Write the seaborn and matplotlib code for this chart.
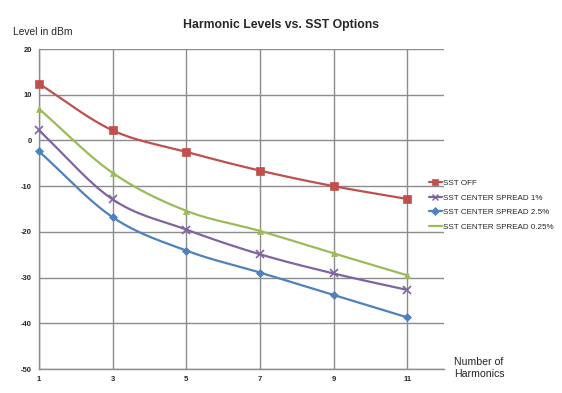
import numpy as np
import pandas as pd
import matplotlib
matplotlib.use("Agg")
import matplotlib.pyplot as plt
import seaborn as sns
from matplotlib.lines import Line2D

harmonics = [1, 3, 5, 7, 9, 11]
sst_off = [12.4, 2.2, -2.5, -6.6, -10.0, -12.8]
spread_1 = [2.2, -12.9, -19.5, -24.9, -29.1, -32.7]
spread_25 = [-2.4, -16.8, -24.1, -28.9, -33.8, -38.7]
spread_025 = [6.9, -7.1, -15.4, -19.8, -24.7, -29.5]

series_names = ["SST OFF", "SST CENTER SPREAD 1%", "SST CENTER SPREAD 2.5%", "SST CENTER SPREAD 0.25%"]
series_vals = [sst_off, spread_1, spread_25, spread_025]
colors = ["#C0504D", "#8064A2", "#4F81BD", "#9BBB59"]
markers = ["s", "x", "D", "^"]
msizes = [6, 6, 4.5, 5]
legend_markers = ["s", "x", "D", "None"]

yticks = [20, 10, 0, -10, -20, -30, -40, -50]

sns.set_style("white")
plt.rcParams["font.family"] = ["Liberation Sans", "DejaVu Sans"]


def smooth(xs, ys, n=30):
    # Catmull-Rom style smoothing of the drawn line (Excel "smoothed line")
    xs = np.asarray(xs, float)
    ys = np.asarray(ys, float)
    px = np.concatenate([[2 * xs[0] - xs[1]], xs, [2 * xs[-1] - xs[-2]]])
    py = np.concatenate([[2 * ys[0] - ys[1]], ys, [2 * ys[-1] - ys[-2]]])
    ox, oy = [], []
    for i in range(1, len(px) - 2):
        t = np.linspace(0, 1, n, endpoint=False)
        for P, out in ((px, ox), (py, oy)):
            p0, p1, p2, p3 = P[i - 1], P[i], P[i + 1], P[i + 2]
            out.extend(0.5 * ((2 * p1) + (-p0 + p2) * t + (2 * p0 - 5 * p1 + 4 * p2 - p3) * t ** 2
                              + (-p0 + 3 * p1 - 3 * p2 + p3) * t ** 3))
    ox.append(xs[-1]); oy.append(ys[-1])
    return np.array(ox), np.array(oy)


fig = plt.figure(figsize=(5.62, 3.93), dpi=100)
ax = fig.add_axes([39 / 562, 1 - 369 / 393, (444 - 39) / 562, 320 / 393])

rows = []
for name, vals in zip(series_names, series_vals):
    for h, v in zip(harmonics, vals):
        rows.append({"Harmonic": h, "Level": v, "Series": name})
df = pd.DataFrame(rows)

for name, vals, c, m, ms in zip(series_names, series_vals, colors, markers, msizes):
    sx, sy = smooth(harmonics, vals)
    ax.plot(sx, sy, color=c, lw=1.6, zorder=3, clip_on=False)
    sub = df[df["Series"] == name]
    ax.plot(sub["Harmonic"], sub["Level"], linestyle="none", marker=m, color=c,
            markersize=ms, markeredgewidth=1.2 if m == "x" else 0.5, zorder=4, clip_on=False)

ax.set_xlim(1, 12)
ax.set_ylim(-50, 20)
ax.set_xticks(harmonics)
ax.set_xticklabels([str(h) for h in harmonics])
ax.set_yticks(yticks)
ax.set_yticklabels([str(t) for t in yticks])
ax.grid(True, color="#8c8c8c", lw=1.0)
ax.set_axisbelow(True)
for s in ["top", "right"]:
    ax.spines[s].set_visible(False)
for s in ["left", "bottom"]:
    ax.spines[s].set_color("#8c8c8c")
    ax.spines[s].set_linewidth(1.0)
ax.tick_params(axis="both", labelsize=5.5, length=3, color="#8c8c8c", width=1.0, pad=2)
for lab in ax.get_xticklabels() + ax.get_yticklabels():
    lab.set_fontweight("bold")

fig.text(281 / 562, 1 - 25 / 393, "Harmonic Levels vs. SST Options", ha="center", va="center",
         fontsize=8.8, fontweight="bold")
fig.text(13 / 562, 1 - 32 / 393, "Level in dBm", ha="left", va="center", fontsize=7.4)
fig.text(454 / 562, 1 - 368 / 393, "Number of\nHarmonics", ha="left", va="center", fontsize=7.6,
         linespacing=1.15, multialignment="left")

handles = [Line2D([0], [0], color=c, marker=m, markersize=ms * 0.8, lw=1.6,
                  markeredgewidth=1.0 if m == "x" else 0.5)
           for c, m, ms in zip(colors, legend_markers, msizes)]
fig.legend(handles, series_names, loc="center left", bbox_to_anchor=(429 / 562, 1 - 205 / 393),
           frameon=False, fontsize=5.8, handlelength=1.6, handletextpad=0.1, labelspacing=0.85,
           borderaxespad=0, borderpad=0)

fig.savefig("out.png", dpi=100)
